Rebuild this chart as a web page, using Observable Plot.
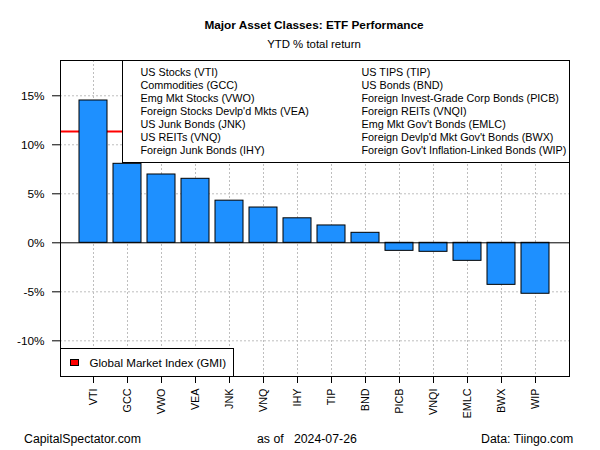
<!DOCTYPE html>
<html>
<head>
<meta charset="utf-8">
<script src="https://cdn.jsdelivr.net/npm/d3@7"></script>
<script src="https://cdn.jsdelivr.net/npm/@observablehq/plot@0.6"></script>
<style>
  body { margin: 0; background: #fff; }
  #wrap { position: relative; width: 600px; height: 450px; font-family: "Liberation Sans", Arial, sans-serif; color: #000; overflow: hidden; }
  .abs { position: absolute; white-space: nowrap; }
  #title { left: 59px; width: 510px; top: 18px; line-height: 14px; text-align: center; font-weight: bold; font-size: 11.8px; }
  #subtitle { left: 59px; width: 510px; top: 36.7px; line-height: 14px; text-align: center; font-size: 11.4px; }
  #chart { position: absolute; left: 0; top: 50px; }
  #legTop { left: 121.5px; top: 59.5px; width: 448px; height: 103px; box-sizing: border-box; border: 1px solid #000; background: #fff; font-size: 10.8px; }
  #legTop .col { position: absolute; top: 5px; line-height: 13px; }
  #legBot { left: 59.5px; top: 347.5px; width: 174px; height: 29px; box-sizing: border-box; border: 1px solid #000; background: #fff; font-size: 11.6px; }
  #legBot .sw { position: absolute; left: 9px; top: 10px; width: 9px; height: 7px; background: #ff0000; border: 1px solid #000; box-sizing: border-box; }
  #legBot .lab { position: absolute; left: 29px; top: 7px; line-height: 14px; }
  .foot { top: 431.8px; font-size: 12.3px; line-height: 14px; }
</style>
</head>
<body>
<div id="wrap">
  <div id="title" class="abs"></div>
  <div id="subtitle" class="abs"></div>
  <div id="chart"></div>
  <div id="legTop" class="abs"><div class="col" id="c1" style="left:18px"></div><div class="col" id="c2" style="left:239px"></div></div>
  <div id="legBot" class="abs"><div class="sw"></div><div class="lab" id="gmiLab"></div></div>
  <div class="abs foot" id="f1" style="left:24px"></div>
  <div class="abs foot" id="f2" style="left:257px"></div>
  <div class="abs foot" id="f3" style="right:26.7px"></div>
</div>
<script>
const titleText = "Major Asset Classes: ETF Performance";
const subtitleText = "YTD % total return";
const tickers = ["VTI","GCC","VWO","VEA","JNK","VNQ","IHY","TIP","BND","PICB","VNQI","EMLC","BWX","WIP"];
const returns = [14.52, 8.06, 6.97, 6.53, 4.30, 3.60, 2.50, 1.77, 1.02, -0.82, -0.92, -1.84, -4.29, -5.20];
const gmiValue = 11.36;
const gmiLabel = "Global Market Index (GMI)";
const legendCol1 = ["US Stocks (VTI)","Commodities (GCC)","Emg Mkt Stocks (VWO)","Foreign Stocks Devlp'd Mkts (VEA)","US Junk Bonds (JNK)","US REITs (VNQ)","Foreign Junk Bonds (IHY)"];
const legendCol2 = ["US TIPS (TIP)","US Bonds (BND)","Foreign Invest-Grade Corp Bonds (PICB)","Foreign REITs (VNQI)","Emg Mkt Gov't Bonds (EMLC)","Foreign Devlp'd Mkt Gov't Bonds (BWX)","Foreign Gov't Inflation-Linked Bonds (WIP)"];
const yTicks = [-10, -5, 0, 5, 10, 15];
const yGrid = [-10, -5, 5, 10, 15];
const yDomain = [-13.64, 18.6];
const footLeft = "CapitalSpectator.com";
const footMid = "as of   2024-07-26";
const footRight = "Data: Tiingo.com";

const data = tickers.map((t, i) => ({ticker: t, value: returns[i]}));

document.getElementById("title").textContent = titleText;
document.getElementById("subtitle").textContent = subtitleText;
document.getElementById("c1").innerHTML = legendCol1.map(s => `<div>${s}</div>`).join("");
document.getElementById("c2").innerHTML = legendCol2.map(s => `<div>${s}</div>`).join("");
document.getElementById("gmiLab").textContent = gmiLabel;
document.getElementById("f1").textContent = footLeft;
document.getElementById("f2").style.whiteSpace = "pre";
document.getElementById("f2").textContent = footMid;
document.getElementById("f3").textContent = footRight;

const chart = Plot.plot({
  width: 600,
  height: 380,
  marginLeft: 60,
  marginRight: 31,
  marginTop: 10,
  marginBottom: 54,
  style: { fontFamily: "Liberation Sans, Arial, sans-serif", color: "#000", background: "transparent" },
  x: { type: "band", domain: tickers, paddingInner: 0.163, paddingOuter: 0.541, label: null },
  y: { domain: yDomain, label: null },
  marks: [
    Plot.gridY(yGrid, { stroke: "#bebebe", strokeOpacity: 1, strokeDasharray: "2,2" }),
    Plot.gridX(tickers, { stroke: "#bebebe", strokeOpacity: 1, strokeDasharray: "2,2" }),
    Plot.ruleY([gmiValue], { stroke: "#ff0000", strokeWidth: 2 }),
    Plot.barY(data, { x: "ticker", y: "value", fill: "#1E90FF", stroke: "#000", strokeWidth: 1 }),
    Plot.ruleY([0], { stroke: "#000", strokeWidth: 1 }),
    Plot.axisY({ ticks: yTicks, tickFormat: d => d + "%", tickSize: 8, tickPadding: 8, fontSize: 11.8 }),
    Plot.axisX({ tickSize: 7, tickPadding: 5, tickRotate: -90, fontSize: 10.8 }),
    Plot.frame({ stroke: "#000", strokeWidth: 1 })
  ]
});
document.getElementById("chart").appendChild(chart);
</script>
</body>
</html>
